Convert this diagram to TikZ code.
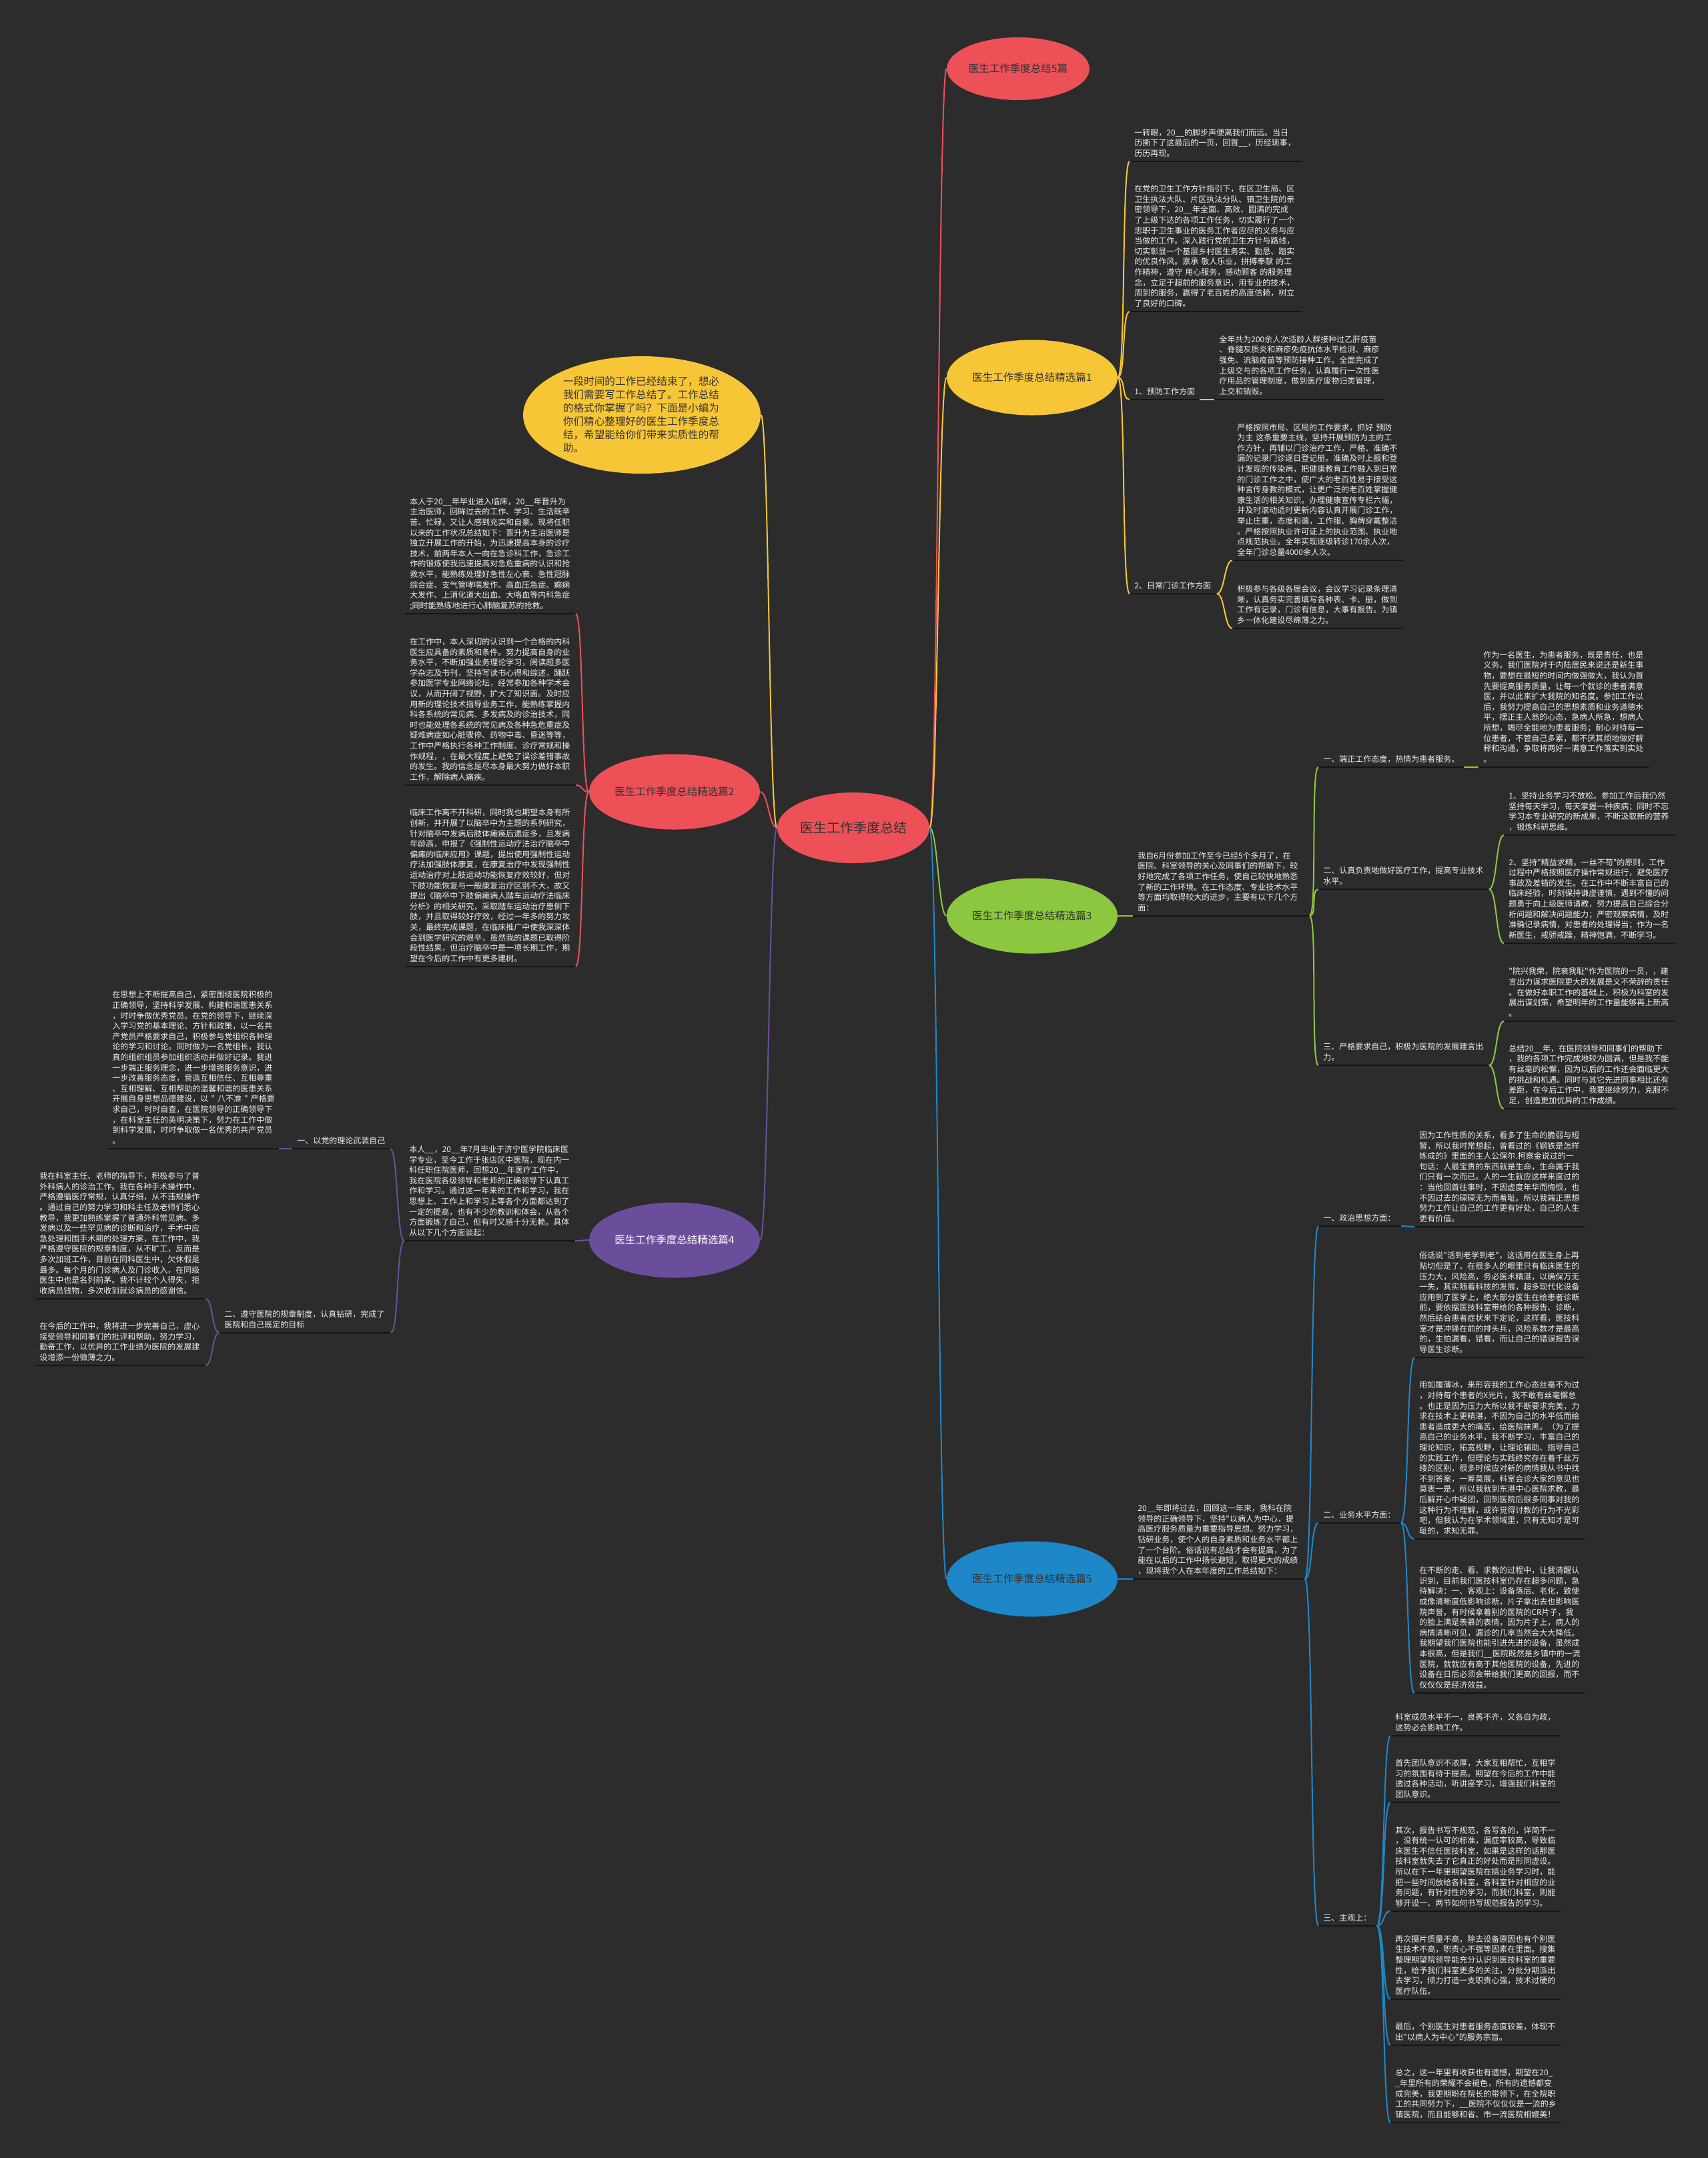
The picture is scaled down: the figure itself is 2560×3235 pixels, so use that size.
\documentclass[tikz,border=0pt]{standalone}
\usepackage{fontspec}
\newfontfamily\cjk{Noto Sans CJK SC}
\usetikzlibrary{shapes.geometric}
\definecolor{bgc}{HTML}{2C2C2C}
\definecolor{cred}{HTML}{EE5058}
\definecolor{cyel}{HTML}{F7C637}
\definecolor{cgrn}{HTML}{8DC63F}
\definecolor{cblu}{HTML}{1E87C8}
\definecolor{cpur}{HTML}{6B4E9B}
\definecolor{ctxt}{HTML}{EEEEEE}
\definecolor{cdark}{HTML}{333333}
\definecolor{culine}{HTML}{151515}
\tikzset{
 tbox/.style={font=\cjk\fontsize{6pt}{7.8pt}\selectfont, text=ctxt, align=left, inner xsep=3.5pt, inner ysep=1.3pt, anchor=south west},
 uline/.style={draw=culine, line width=1.2pt},
 conn/.style={line width=1pt},
 topic/.style={ellipse, inner sep=0pt, font=\cjk\fontsize{7.75pt}{9pt}\selectfont, text=cdark, minimum width=128pt, minimum height=56.5pt},
}
\newcommand\tbx[5]{%
 \pgfmathsetmacro\tbw{(#3-#2)*0.5-7}%
 \node[tbox,text width=\tbw pt] (#1) at (#2,#4) {#5\strut};%
 \draw[uline] (#1.south west) -- (#1.south east);}
\newcommand\connR[3]{\draw[conn,#1] (#2) .. controls +(12,0) and +(-12,0) .. (#3);}
\newcommand\connL[3]{\draw[conn,#1] (#2) .. controls +(-12,0) and +(12,0) .. (#3);}
\begin{document}
\begin{tikzpicture}[x=0.5pt,y=-0.5pt]
\fill[bgc] (0,0) rectangle (2560,3235);
\useasboundingbox (0,0) rectangle (2560,3235);

% ---------- topics ----------
\node[topic, fill=cred, minimum width=114pt, minimum height=53pt, font=\cjk\fontsize{10pt}{12pt}\selectfont] (root) at (1279,1241) {医生工作季度总结};
\node[topic, fill=cred, minimum width=107pt, minimum height=47pt] (t0) at (1526,103) {医生工作季度总结5篇};
\node[topic, fill=cyel] (t1) at (1547,566) {医生工作季度总结精选篇1};
\node[topic, fill=cgrn] (t3) at (1547,1373) {医生工作季度总结精选篇3};
\node[topic, fill=cblu] (t5) at (1547,2367) {医生工作季度总结精选篇5};
\node[topic, fill=cred] (t2) at (1011,1187) {医生工作季度总结精选篇2};
\node[topic, fill=cpur, text=white] (t4) at (1011,1859) {医生工作季度总结精选篇4};
\node[topic, fill=cyel, minimum width=178pt, minimum height=88pt, align=left, text width=118pt, font=\cjk\fontsize{7.8pt}{10pt}\selectfont] (intro) at (962,622) {一段时间的工作已经结束了，想必\\
我们需要写工作总结了。工作总结\\
的格式你掌握了吗？下面是小编为\\
你们精心整理好的医生工作季度总\\
结，希望能给你们带来实质性的帮\\
助。};

% ---------- branch 1 ----------
\tbx{a1}{1693}{1950}{242}{一转眼，20\_\_的脚步声便离我们而远。当日\\
历撕下了这最后的一页，回首\_\_，历经琐事，\\
历历再现。}
\tbx{a2}{1693}{1950}{467}{在党的卫生工作方针指引下，在区卫生局、区\\
卫生执法大队、片区执法分队、镇卫生院的亲\\
密领导下，20\_\_年全面、高效、圆满的完成\\
了上级下达的各项工作任务，切实履行了一个\\
忠职于卫生事业的医务工作者应尽的义务与应\\
当做的工作。深入践行党的卫生方针与路线，\\
切实彰显一个基层乡村医生务实、勤恳、踏实\\
的优良作风。禀承~敬人乐业，拼搏奉献~的工\\
作精神，遵守~用心服务，感动顾客~的服务理\\
念，立足于超前的服务意识，用专业的技术，\\
周到的服务，赢得了老百姓的高度信赖，树立\\
了良好的口碑。}
\tbx{a3}{1693}{1797}{599}{1、预防工作方面}
\tbx{a3a}{1820}{2075}{599}{全年共为200余人次适龄人群接种过乙肝疫苗\\
、脊髓灰质炎和麻疹免疫抗体水平检测、麻疹\\
强免、流脑疫苗等预防接种工作。全面完成了\\
上级交与的各项工作任务，认真履行一次性医\\
疗用品的管理制度，做到医疗废物归类管理，\\
上交和销毁。}
\tbx{a4}{1693}{1823}{890}{2、日常门诊工作方面}
\tbx{a4a}{1847}{2102}{840}{严格按照市局、区局的工作要求，抓好~预防\\
为主~这条重要主线，坚持开展预防为主的工\\
作方针，再辅以门诊治疗工作，严格、准确不\\
漏的记录门诊逐日登记册。准确及时上报和登\\
计发现的传染病，把健康教育工作融入到日常\\
的门诊工作之中，使广大的老百姓易于接受这\\
种言传身教的模式，让更广泛的老百姓掌握健\\
康生活的相关知识。办理健康宣传专栏六幅，\\
并及时滚动适时更新内容认真开展门诊工作，\\
举止庄重，态度和蔼，工作服、胸牌穿戴整洁\\
。严格按照执业许可证上的执业范围、执业地\\
点规范执业。全年实现逐级转诊170余人次，\\
全年门诊总量4000余人次。}
\tbx{a4b}{1847}{2102}{942}{积极参与各级各届会议，会议学习记录条理清\\
晰，认真务实完善填写各种表、卡、册，做到\\
工作有记录，门诊有信息，大事有报告。为镇\\
乡一体化建设尽绵薄之力。}

% ---------- branch 3 ----------
\tbx{m3}{1698}{1962}{1373}{我自6月份参加工作至今已经5个多月了，在\\
医院、科室领导的关心及同事们的帮助下，较\\
好地完成了各项工作任务，使自己较快地熟悉\\
了新的工作环境。在工作态度、专业技术水平\\
等方面均取得较大的进步，主要有以下几个方\\
面：}
\tbx{l31}{1976}{2193}{1150}{一、端正工作态度，热情为患者服务。}
\tbx{l31a}{2216}{2471}{1150}{作为一名医生，为患者服务，既是责任，也是\\
义务。我们医院对于内陆居民来说还是新生事\\
物，要想在最短的时间内做强做大，我认为首\\
先要提高服务质量，让每一个就诊的患者满意\\
医，并以此来扩大我院的知名度。参加工作以\\
后，我努力提高自己的思想素质和业务道德水\\
平，摆正主人翁的心态，急病人所急，想病人\\
所想，竭尽全能地为患者服务；耐心对待每一\\
位患者，不管自己多累，都不厌其烦地做好解\\
释和沟通，争取将两好一满意工作落实到实处\\
。}
\tbx{l32}{1976}{2231}{1333}{二、认真负责地做好医疗工作，提高专业技术\\
水平。}
\tbx{l32a}{2254}{2509}{1252}{1、坚持业务学习不放松。参加工作后我仍然\\
坚持每天学习，每天掌握一种疾病；同时不忘\\
学习本专业研究的新成果，不断汲取新的营养\\
，锻炼科研思维。}
\tbx{l32b}{2254}{2509}{1414}{2、坚持"精益求精，一丝不苟"的原则，工作\\
过程中严格按照医疗操作常规进行，避免医疗\\
事故及差错的发生。在工作中不断丰富自己的\\
临床经验，时刻保持谦虚谨慎，遇到不懂的问\\
题勇于向上级医师请教，努力提高自己综合分\\
析问题和解决问题能力；严密观察病情，及时\\
准确记录病情，对患者的处理得当；作为一名\\
新医生，戒骄戒躁，精神饱满，不断学习。}
\tbx{l33}{1976}{2231}{1597}{三、严格要求自己，积极为医院的发展建言出\\
力。}
\tbx{l33a}{2254}{2509}{1531}{"院兴我荣，院衰我耻"作为医院的一员，，建\\
言出力谋求医院更大的发展是义不荣辞的责任\\
。在做好本职工作的基础上，积极为科室的发\\
展出谋划策，希望明年的工作量能够再上新高\\
。}
\tbx{l33b}{2254}{2509}{1662}{总结20\_\_年，在医院领导和同事们的帮助下\\
，我的各项工作完成地较为圆满，但是我不能\\
有丝毫的松懈，因为以后的工作还会面临更大\\
的挑战和机遇。同时与其它先进同事相比还有\\
差距，在今后工作中，我要继续努力，克服不\\
足，创造更加优异的工作成绩。}

% ---------- branch 5 ----------
\tbx{m5}{1698}{1955}{2367}{20\_\_年即将过去，回顾这一年来，我科在院\\
领导的正确领导下，坚持"以病人为中心，提\\
高医疗服务质量为重要指导思想。努力学习，\\
钻研业务，使个人的自身素质和业务水平都上\\
了一个台阶。俗话说有总结才会有提高，为了\\
能在以后的工作中扬长避短，取得更大的成绩\\
，现将我个人在本年度的工作总结如下：}
\tbx{l51}{1976}{2099}{1838}{一、政治思想方面：}
\tbx{l51a}{2120}{2375}{1839}{因为工作性质的关系，看多了生命的脆弱与短\\
暂，所以我时常想起，曾看过的《钢铁是怎样\\
炼成的》里面的主人公保尔.柯察金说过的一\\
句话：人最宝贵的东西就是生命，生命属于我\\
们只有一次而已。人的一生就应这样来度过的\\
：当他回首往事时，不因虚度年华而悔恨，也\\
不因过去的碌碌无为而羞耻。所以我端正思想\\
努力工作让自己的工作更有好处，自己的人生\\
更有价值。}
\tbx{l51b}{2120}{2375}{2035}{俗话说"活到老学到老"，这话用在医生身上再\\
贴切但是了。在很多人的眼里只有临床医生的\\
压力大，风险高，务必医术精湛，以确保万无\\
一失，其实随着科技的发展，超多现代化设备\\
应用到了医学上，绝大部分医生在给患者诊断\\
前，要依据医技科室带给的各种报告、诊断，\\
然后结合患者症状来下定论，这样看，医技科\\
室才是冲锋在前的排头兵，风险系数才是最高\\
的，生怕漏看，错看，而让自己的错误报告误\\
导医生诊断。}
\tbx{l52}{1976}{2099}{2283}{二、业务水平方面：}
\tbx{l52a}{2120}{2375}{2307}{用如履薄冰，来形容我的工作心态丝毫不为过\\
，对待每个患者的X光片，我不敢有丝毫懈怠\\
。也正是因为压力大所以我不断要求完美，力\\
求在技术上更精湛，不因为自己的水平低而给\\
患者造成更大的痛苦，给医院抹黑。（为了提\\
高自己的业务水平，我不断学习，丰富自己的\\
理论知识，拓宽视野，让理论辅助、指导自己\\
的实践工作，但理论与实践终究存在着千丝万\\
缕的区别，很多时候应对新的病情我从书中找\\
不到答案，一筹莫展，科室会诊大家的意见也\\
莫衷一是，所以我就到东港中心医院求教，最\\
后解开心中疑团，回到医院后很多同事对我的\\
这种行为不理解，或许觉得讨教的行为不光彩\\
吧，但我认为在学术领域里，只有无知才是可\\
耻的，求知无罪。}
\tbx{l52b}{2120}{2375}{2538}{在不断的走、看、求教的过程中，让我清醒认\\
识到，目前我们医技科室仍存在超多问题，急\\
待解决：一、客观上：设备落后、老化，致使\\
成像清晰度低影响诊断，片子拿出去也影响医\\
院声誉。有时候拿着别的医院的CR片子，我\\
的脸上满是羡慕的表情，因为片子上，病人的\\
病情清晰可见，漏诊的几率当然会大大降低。\\
我期望我们医院也能引进先进的设备，虽然成\\
本很高，但是我们\_\_医院既然是乡镇中的一流\\
医院，就就应有高于其他医院的设备，先进的\\
设备在日后必须会带给我们更高的回报，而不\\
仅仅仅是经济效益。}
\tbx{l53}{1976}{2063}{2887}{三、主观上：}
\tbx{l53a}{2084}{2339}{2602}{科室成员水平不一，良莠不齐，又各自为政，\\
这势必会影响工作。}
\tbx{l53b}{2084}{2339}{2702}{首先团队意识不浓厚，大家互相帮忙，互相学\\
习的氛围有待于提高。期望在今后的工作中能\\
透过各种活动，听讲座学习，增强我们科室的\\
团队意识。}
\tbx{l53c}{2084}{2339}{2865}{其次，报告书写不规范，各写各的，详简不一\\
，没有统一认可的标准，漏症率较高，导致临\\
床医生不信任医技科室，如果是这样的话那医\\
技科室就失去了它真正的好处而是形同虚设。\\
所以在下一年里期望医院在搞业务学习时，能\\
把一些时间放给各科室，各科室针对相应的业\\
务问题，有针对性的学习，而我们科室，则能\\
够开设一、两节如何书写规范报告的学习。}
\tbx{l53d}{2084}{2339}{2997}{再次摄片质量不高，除去设备原因也有个别医\\
生技术不高，职责心不强等因素在里面。搜集\\
整理期望院领导能充分认识到医技科室的重要\\
性，给予我们科室更多的关注，分批分期派出\\
去学习，倾力打造一支职责心强，技术过硬的\\
医疗队伍。}
\tbx{l53e}{2084}{2339}{3066}{最后，个别医生对患者服务态度较差，体现不\\
出"以病人为中心"的服务宗旨。}
\tbx{l53f}{2084}{2339}{3182}{总之，这一年里有收获也有遗憾，期望在20\_\\
\_年里所有的荣耀不会褪色，所有的遗憾都变\\
成完美，我更期盼在院长的带领下，在全院职\\
工的共同努力下，\_\_医院不仅仅仅是一流的乡\\
镇医院，而且能够和省、市一流医院相媲美！}

% ---------- branch 2 ----------
\tbx{b2a}{607}{862}{920}{本人于20\_\_年毕业进入临床，20\_\_年晋升为\\
主治医师，回眸过去的工作、学习、生活既辛\\
苦、忙碌，又让人感到充实和自豪。现将任职\\
以来的工作状况总结如下：晋升为主治医师是\\
独立开展工作的开始，为迅速提高本身的诊疗\\
技术，前两年本人一向在急诊科工作，急诊工\\
作的锻炼使我迅速提高对急危重病的认识和抢\\
救水平，能熟练处理好急性左心衰、急性冠脉\\
综合症、支气管哮喘发作、高血压急症、癫痫\\
大发作、上消化道大出血、大咯血等内科急症\\
;同时能熟练地进行心肺脑复苏的抢救。}
\tbx{b2b}{607}{862}{1177}{在工作中，本人深切的认识到一个合格的内科\\
医生应具备的素质和条件。努力提高自身的业\\
务水平，不断加强业务理论学习，阅读超多医\\
学杂志及书刊，坚持写读书心得和综述，踊跃\\
参加医学专业网络论坛，经常参加各种学术会\\
议，从而开阔了视野，扩大了知识面。及时应\\
用新的理论技术指导业务工作，能熟练掌握内\\
科各系统的常见病、多发病及的诊治技术，同\\
时也能处理各系统的常见病及各种急危重症及\\
疑难病症如心脏骤停、药物中毒、昏迷等等，\\
工作中严格执行各种工作制度、诊疗常规和操\\
作规程，，在最大程度上避免了误诊差错事故\\
的发生。我的信念是尽本身最大努力做好本职\\
工作，解除病人痛疾。}
\tbx{b2c}{607}{862}{1449}{临床工作离不开科研，同时我也期望本身有所\\
创新，并开展了以脑卒中为主题的系列研究，\\
针对脑卒中发病后肢体瘫痪后遗症多，且发病\\
年龄高，申报了《强制性运动疗法治疗脑卒中\\
偏瘫的临床应用》课题，提出使用强制性运动\\
疗法加强肢体康复，在康复治疗中发现强制性\\
运动治疗对上肢运动功能恢复疗效较好，但对\\
下肢功能恢复与一般康复治疗区别不大，故又\\
提出《脑卒中下肢偏瘫病人踏车运动疗法临床\\
分析》的相关研究，采取踏车运动治疗患侧下\\
肢，并且取得较好疗效，经过一年多的努力攻\\
关，最终完成课题，在临床推广中使我深深体\\
会到医学研究的艰辛，虽然我的课题已取得阶\\
段性结果，但治疗脑卒中是一项长期工作，期\\
望在今后的工作中有更多建树。}

% ---------- branch 4 ----------
\tbx{m4}{606}{861}{1860}{本人\_\_，20\_\_年7月毕业于济宁医学院临床医\\
学专业，至今工作于张店区中医院，现在内一\\
科任职住院医师，回想20\_\_年医疗工作中，\\
我在医院各级领导和老师的正确领导下认真工\\
作和学习。通过这一年来的工作和学习，我在\\
思想上、工作上和学习上等各个方面都达到了\\
一定的提高，也有不少的教训和体会，从各个\\
方面锻炼了自己，但有时又感十分无赖。具体\\
从以下几个方面谈起：}
\tbx{l41}{438}{584}{1722}{一、以党的理论武装自己}
\tbx{l41a}{161}{417}{1722}{在思想上不断提高自己，紧密围绕医院积极的\\
正确领导，坚持科学发展、构建和谐医患关系\\
，时时争做优秀党员。在党的领导下，继续深\\
入学习党的基本理论、方针和政策，以一名共\\
产党员严格要求自己，积极参与党组织各种理\\
论的学习和讨论。同时做为一名党组长，我认\\
真的组织组员参加组织活动并做好记录。我进\\
一步端正服务理念，进一步增强服务意识，进\\
一步改善服务态度，营造互相信任、互相尊重\\
、互相理解、互相帮助的温馨和谐的医患关系\\
开展自身思想品德建设，以~"~八不准~"~严格要\\
求自己，时时自查，在医院领导的正确领导下\\
，在科室主任的英明决策下，努力在工作中做\\
到科学发展，时时争取做一名优秀的共产党员\\
。}
\tbx{l42}{329}{585}{1998}{二、遵守医院的规章制度，认真钻研，完成了\\
医院和自己既定的目标}
\tbx{l42a}{52}{307}{1947}{我在科室主任、老师的指导下，积极参与了普\\
外科病人的诊治工作。我在各种手术操作中，\\
严格遵循医疗常规，认真仔细，从不违规操作\\
。通过自己的努力学习和科主任及老师们悉心\\
教导，我更加熟练掌握了普通外科常见病、多\\
发病以及一些罕见病的诊断和治疗，手术中应\\
急处理和围手术期的处理方案，在工作中，我\\
严格遵守医院的规章制度，从不旷工，反而是\\
多次加班工作，目前在同科医生中，欠休假是\\
最多。每个月的门诊病人及门诊收入，在同级\\
医生中也是名列前茅。我不计较个人得失，拒\\
收病员钱物，多次收到就诊病员的感谢信。}
\tbx{l42b}{52}{307}{2047}{在今后的工作中，我将进一步完善自己，虚心\\
接受领导和同事们的批评和帮助，努力学习，\\
勤奋工作，以优异的工作业绩为医院的发展建\\
设增添一份微薄之力。}

% ---------- connectors ----------
\connR{cred}{root.east}{t0.west}
\connR{cyel}{root.east}{t1.west}
\connR{cgrn}{root.east}{t3.west}
\connR{cblu}{root.east}{t5.west}
\connL{cyel}{root.west}{intro.east}
\connL{cred}{root.west}{t2.east}
\connL{cpur}{root.west}{t4.east}

\connR{cyel}{t1.east}{a1.south west}
\connR{cyel}{t1.east}{a2.south west}
\connR{cyel}{t1.east}{a3.south west}
\connR{cyel}{t1.east}{a4.south west}
\connR{cyel}{a3.south east}{a3a.south west}
\connR{cyel}{a4.south east}{a4a.south west}
\connR{cyel}{a4.south east}{a4b.south west}

\connR{cgrn}{t3.east}{m3.south west}
\connR{cgrn}{m3.south east}{l31.south west}
\connR{cgrn}{m3.south east}{l32.south west}
\connR{cgrn}{m3.south east}{l33.south west}
\connR{cgrn}{l31.south east}{l31a.south west}
\connR{cgrn}{l32.south east}{l32a.south west}
\connR{cgrn}{l32.south east}{l32b.south west}
\connR{cgrn}{l33.south east}{l33a.south west}
\connR{cgrn}{l33.south east}{l33b.south west}

\connR{cblu}{t5.east}{m5.south west}
\connR{cblu}{m5.south east}{l51.south west}
\connR{cblu}{m5.south east}{l52.south west}
\connR{cblu}{m5.south east}{l53.south west}
\connR{cblu}{l51.south east}{l51a.south west}
\connR{cblu}{l52.south east}{l51b.south west}
\connR{cblu}{l52.south east}{l52a.south west}
\connR{cblu}{l52.south east}{l52b.south west}
\connR{cblu}{l53.south east}{l53a.south west}
\connR{cblu}{l53.south east}{l53b.south west}
\connR{cblu}{l53.south east}{l53c.south west}
\connR{cblu}{l53.south east}{l53d.south west}
\connR{cblu}{l53.south east}{l53e.south west}
\connR{cblu}{l53.south east}{l53f.south west}

\connL{cred}{t2.west}{b2a.south east}
\connL{cred}{t2.west}{b2b.south east}
\connL{cred}{t2.west}{b2c.south east}

\connL{cpur}{t4.west}{m4.south east}
\connL{cpur}{m4.south west}{l41.south east}
\connL{cpur}{m4.south west}{l42.south east}
\connL{cpur}{l41.south west}{l41a.south east}
\connL{cpur}{l42.south west}{l42a.south east}
\connL{cpur}{l42.south west}{l42b.south east}
\end{tikzpicture}
\end{document}
